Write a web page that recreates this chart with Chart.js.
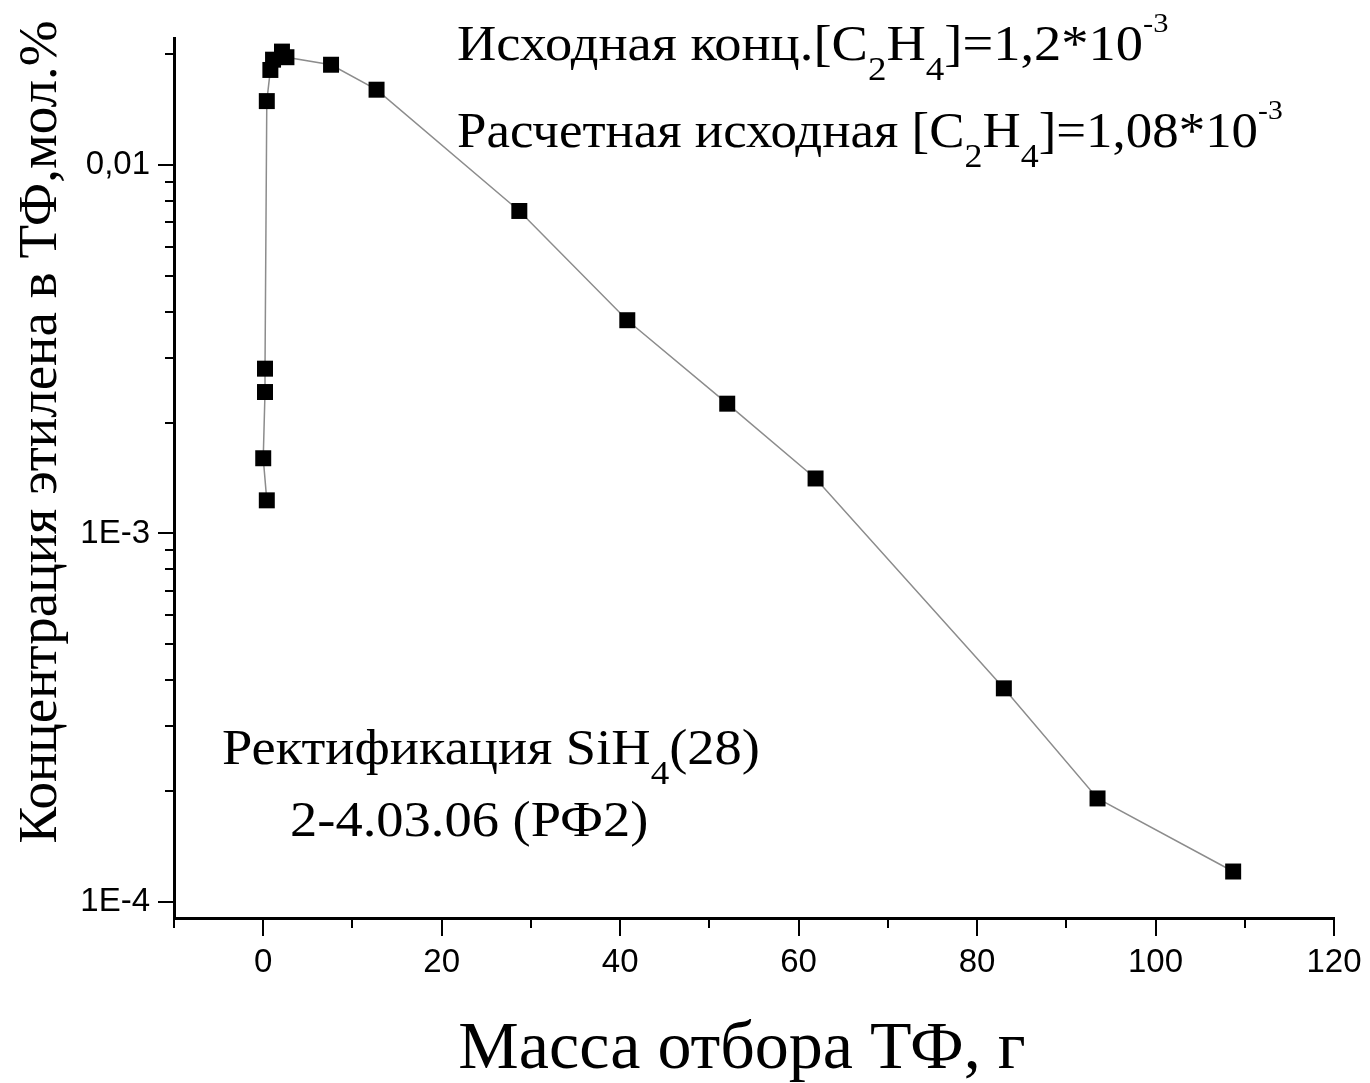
<!DOCTYPE html>
<html>
<head>
<meta charset="utf-8">
<script src="https://cdn.jsdelivr.net/npm/chart.js@4.4.1/dist/chart.umd.min.js"></script>
<style>
  html, body { margin: 0; padding: 0; background: #fff; }
  #wrap { width: 1370px; height: 1083px; position: relative; }
</style>
</head>
<body>
<div id="wrap"><canvas id="grafico"></canvas></div>
<script>
/* DATOS */
const masaTF = [0.4, 0.0, 0.2, 0.2, 0.4, 0.8, 1.1, 2.1, 2.6, 7.6, 12.7, 28.7, 40.8, 52.0, 61.9, 83.0, 93.5, 108.7]
const concEtileno = [1.23e-3, 1.60e-3, 2.42e-3, 2.80e-3, 0.0149, 0.0181, 0.0193, 0.0203, 0.0196, 0.0187, 0.0160,
  7.5e-3, 3.79e-3, 2.25e-3, 1.41e-3, 3.8e-4, 1.91e-4, 1.21e-4]

const yTickValues = [1e-4, 1e-3, 1e-2]
const yTickLabels = ["1E-4", "1E-3", "0,01"]
const xTickLabels = ["0", "20", "40", "60", "80", "100", "120"]

const tituloX = "Масса отбора ТФ, г"
const tituloY = "Концентрация этилена в ТФ,мол.%"

/* texto con sub/superindices: [texto, tipo] */
const nota1 = [["Исходная конц.[C", ""], ["2", "sub"], ["H", ""], ["4", "sub"], ["]=1,2*10", ""], ["-3", "sup"]]
const nota2 = [["Расчетная исходная [C", ""], ["2", "sub"], ["H", ""], ["4", "sub"], ["]=1,08*10", ""], ["-3", "sup"]]
const nota3 = [["Ректификация SiH", ""], ["4", "sub"], ["(28)", ""]]
const nota4 = [["2-4.03.06 (РФ2)", ""]]

const serif = '"Liberation Serif", "Times New Roman", serif'
const sans = '"Liberation Sans", Arial, sans-serif'

function dibujarNota(ctx, partes, x, y, size, ancho) {
    ctx.save()
    ctx.translate(x, y)
    ctx.scale(ancho, 1)
    let cx = 0
    for (let i = 0; i < partes.length; i++) {
        let t = partes[i][0]
        let tipo = partes[i][1]
        let fs = size
        let dy = 0
        if (tipo == "sub") { fs = Math.round(size * 0.68); dy = size * 0.4 }
        if (tipo == "sup") { fs = Math.round(size * 0.55); dy = -size * 0.56 }
        ctx.font = fs + "px " + serif
        ctx.fillText(t, cx, dy)
        cx += ctx.measureText(t).width
    }
    ctx.restore()
}

/* marcas de los ejes y textos */
const pluginOrigen = {
    id: "origen",
    afterDraw(chart) {
        const ctx = chart.ctx
        const sx = chart.scales.x
        const sy = chart.scales.y
        const area = chart.chartArea
        ctx.save()
        ctx.strokeStyle = "#000"
        ctx.lineWidth = 2
        // eje x
        for (let i = 0; i < sx.ticks.length; i++) {
            let v = sx.ticks[i].value
            let px = Math.round(sx.getPixelForValue(v))
            let largo = (v % 20 == 0) ? 18 : 10
            ctx.beginPath()
            ctx.moveTo(px, area.bottom)
            ctx.lineTo(px, area.bottom + largo)
            ctx.stroke()
        }
        // eje y (log)
        for (let e = -5; e <= -1; e++) {
            for (let m = 1; m <= 9; m++) {
                let v = m * Math.pow(10, e)
                if (v < sy.min || v > sy.max) continue
                let py = Math.round(sy.getPixelForValue(v))
                let largo = (m == 1) ? 16 : 9
                ctx.beginPath()
                ctx.moveTo(area.left, py)
                ctx.lineTo(area.left - largo, py)
                ctx.stroke()
            }
        }
        ctx.fillStyle = "#000"
        ctx.textAlign = "left"
        ctx.textBaseline = "alphabetic"
        dibujarNota(ctx, nota1, 457, 60, 50, 1.09)
        dibujarNota(ctx, nota2, 457, 147, 50, 1.058)
        dibujarNota(ctx, nota3, 222, 764, 50, 1.09)
        dibujarNota(ctx, nota4, 290, 836, 50, 1.09)

        // titulos
        ctx.font = "68px " + serif
        ctx.textAlign = "center"
        ctx.fillText(tituloX, 742, 1068)
        ctx.save()
        ctx.translate(56, 432)
        ctx.rotate(-Math.PI / 2)
        ctx.font = "55px " + serif
        ctx.fillText(tituloY, 0, 0)
        ctx.restore()
        ctx.restore()
    }
}

const puntos = []
for (let i = 0; i < masaTF.length; i++) {
    puntos.push({ x: masaTF[i], y: concEtileno[i] })
}

const grafico = new Chart(document.getElementById("grafico").getContext("2d"), {
    type: "scatter",
    data: {
        datasets: [{
            data: puntos,
            showLine: true,
            borderColor: "#8c8c8c",
            borderWidth: 1.5,
            pointStyle: "rect",
            pointRadius: 11.3,
            pointBackgroundColor: "#000",
            pointBorderColor: "#000",
            pointBorderWidth: 0
        }]
    },
    options: {
        responsive: true,
        maintainAspectRatio: false,
        animation: false,
        layout: { padding: { top: 38, right: 36, left: 0, bottom: 0 } },
        plugins: { legend: { display: false }, tooltip: { enabled: false } },
        scales: {
            x: {
                type: "linear",
                min: -10,
                max: 120,
                grid: { display: false, drawTicks: false },
                border: { display: true, color: "#000", width: 3 },
                ticks: {
                    stepSize: 10,
                    autoSkip: false,
                    maxRotation: 0,
                    padding: 25,
                    color: "#000",
                    font: { family: sans, size: 33 },
                    callback: function (v) {
                        let k = xTickLabels.indexOf(String(v))
                        return k >= 0 ? xTickLabels[k] : ""
                    }
                },
                afterFit: function (scale) {
                    scale.height = 165
                    scale.paddingLeft = 0
                    scale.paddingRight = 0
                }
            },
            y: {
                type: "logarithmic",
                min: 9.05e-5,
                max: 0.0221,
                grid: { display: false, drawTicks: false },
                border: { display: true, color: "#000", width: 3 },
                ticks: {
                    autoSkip: false,
                    padding: 24,
                    color: "#000",
                    font: { family: sans, size: 33 },
                    callback: function (v) {
                        for (let i = 0; i < yTickValues.length; i++) {
                            if (Math.abs(v / yTickValues[i] - 1) < 1e-6) return yTickLabels[i]
                        }
                        return ""
                    }
                },
                afterBuildTicks: function (scale) {
                    scale.ticks = yTickValues.map(v => ({ value: v }))
                },
                afterFit: function (scale) {
                    scale.width = 174
                    scale.paddingTop = 0
                    scale.paddingBottom = 0
                }
            }
        }
    },
    plugins: [pluginOrigen]
})
</script>
</body>
</html>
